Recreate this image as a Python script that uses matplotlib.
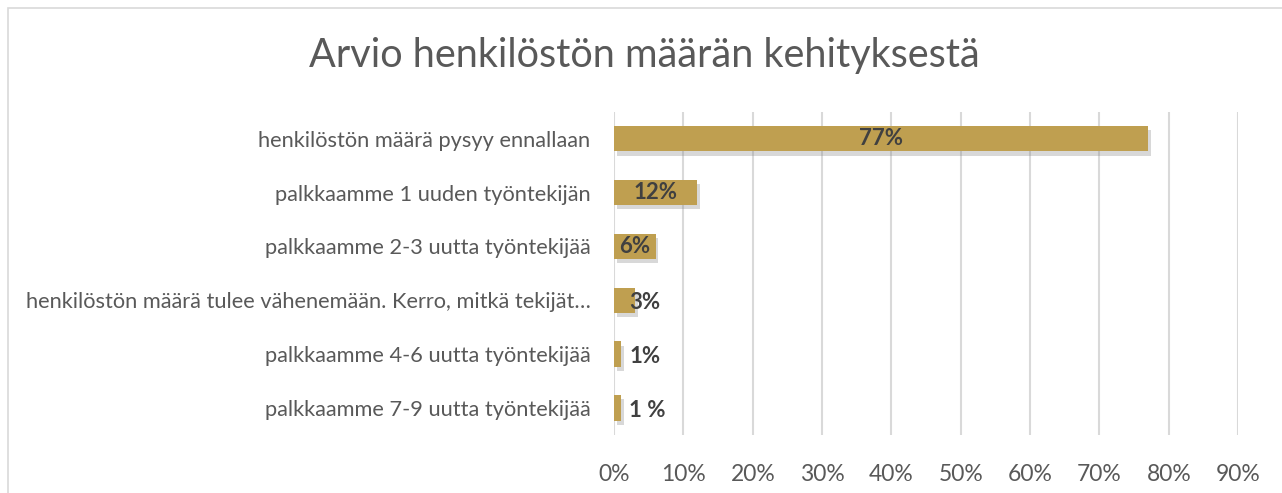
import matplotlib.pyplot as plt
import matplotlib.patheffects as pe
from matplotlib.patches import Rectangle
from matplotlib.ticker import PercentFormatter

plt.rcParams['font.family'] = ['Lato', 'DejaVu Sans']

# data
kategoriat = [
    'henkilöstön määrä pysyy ennallaan',
    'palkkaamme 1 uuden työntekijän',
    'palkkaamme 2-3 uutta työntekijää',
    'henkilöstön määrä tulee vähenemään. Kerro, mitkä tekijät…',
    'palkkaamme 4-6 uutta työntekijää',
    'palkkaamme 7-9 uutta työntekijää',
]
osuudet = [0.77, 0.12, 0.06, 0.03, 0.01, 0.01]
tekstit = ['77%', '12%', '6%', '3%', '1%', '1 %']
xtikit = [0.0, 0.1, 0.2, 0.3, 0.4, 0.5, 0.6, 0.7, 0.8, 0.9]

fig = plt.figure(figsize=(12.82, 4.93), dpi=100)
ax = fig.add_axes([0.479, 0.118, 0.4868, 0.655])

# kehys
fig.patches.append(Rectangle((8 / 1282, -0.01), 1.02, 1 - 8 / 493 + 0.01,
                             transform=fig.transFigure, fill=False,
                             edgecolor='#D9D9D9', linewidth=1.2))

y = list(range(len(kategoriat)))
bars = ax.barh(y, osuudet, height=0.47, color='#BF9F50', zorder=3)
for b in bars:
    b.set_path_effects([pe.SimplePatchShadow(offset=(2, -3), shadow_rgbFace='#808080', alpha=0.3),
                        pe.Normal()])

# arvot
for i, (v, t) in enumerate(zip(osuudet, tekstit)):
    if v >= 0.05:
        ax.text(v / 2, i, t, ha='center', va='center', fontsize=16,
                fontweight='bold', color='#404040', zorder=4)
    else:
        ax.text(0.022, i + 0.05, t, ha='left', va='center', fontsize=16,
                fontweight='bold', color='#404040', zorder=4)

ax.set_ylim(len(kategoriat) - 0.5, -0.5)
ax.set_xlim(0, 0.9)
ax.set_xticks(xtikit)
ax.xaxis.set_major_formatter(PercentFormatter(1.0, decimals=0))
ax.set_yticks(y)
ax.set_yticklabels(kategoriat)
ax.tick_params(axis='both', length=0, labelcolor='#595959')
ax.tick_params(axis='y', labelsize=15.7, pad=17)
ax.tick_params(axis='x', labelsize=16.5, pad=21)
ax.grid(axis='x', color='#D9D9D9', linewidth=1.5, zorder=0)
for s in ax.spines.values():
    s.set_visible(False)

fig.text(0.503, 0.888, 'Arvio henkilöstön määrän kehityksestä', ha='center', va='center',
         fontsize=28.5, color='#595959')

fig.savefig('out.png', dpi=100)
